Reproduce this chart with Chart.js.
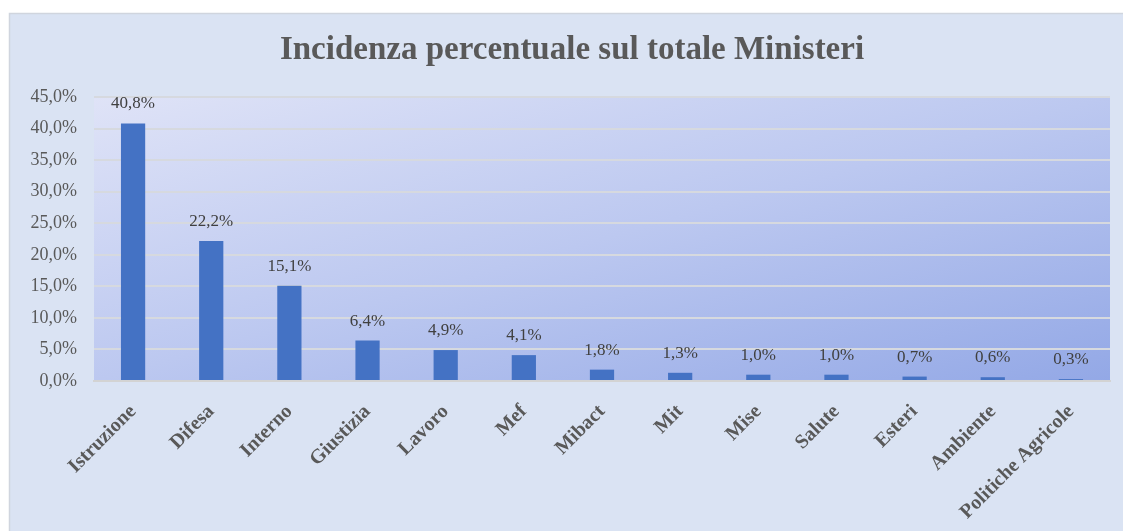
<!DOCTYPE html>
<html><head><meta charset="utf-8">
<script src="https://cdn.jsdelivr.net/npm/chart.js@4"></script>
<style>html,body{margin:0;padding:0;background:#fff;overflow:hidden}#wrap{width:1123px;height:531px}</style>
</head><body><div id="wrap"><canvas id="c" width="1123" height="531"></canvas></div>
<script>
const categories = ["Istruzione","Difesa","Interno","Giustizia","Lavoro","Mef","Mibact","Mit","Mise","Salute","Esteri","Ambiente","Politiche Agricole"];
const values = [40.8,22.2,15.1,6.4,4.9,4.1,1.8,1.3,1.0,1.0,0.7,0.6,0.3];
const yMin = 0, yMax = 45, yStep = 5;
const titleText = "Incidenza percentuale sul totale Ministeri";

const fmt = v => v.toFixed(1).replace('.', ',') + '%';
const SERIF = '"Liberation Serif", "Times New Roman", serif';

const bgPlugin = {
  id: 'bg',
  beforeDraw(chart) {
    const ctx = chart.ctx;
    ctx.save();
    ctx.fillStyle = '#ffffff';
    ctx.fillRect(0, 0, chart.width, chart.height);
    ctx.fillStyle = '#dae3f3';
    ctx.fillRect(9, 13, chart.width, chart.height);
    ctx.strokeStyle = '#d0d5de';
    ctx.lineWidth = 1.5;
    ctx.strokeRect(9.5, 13.5, chart.width + 10, chart.height + 10);
    const a = chart.chartArea;
    const W = a.right - a.left, H = a.bottom - a.top;
    const k = 2 * W * H / (W * W + H * H);
    const g = ctx.createLinearGradient(a.left, a.top, a.left + k * H, a.top + k * W);
    g.addColorStop(0, '#dfe3f7');
    g.addColorStop(0.5, '#bcc8f0');
    g.addColorStop(1, '#93a8e6');
    ctx.fillStyle = g;
    ctx.fillRect(a.left, a.top, W, H);
    ctx.restore();
  },
  afterDraw(chart) {
    const ctx = chart.ctx;
    ctx.save();
    ctx.font = 'bold 33px ' + SERIF;
    ctx.fillStyle = '#595959';
    ctx.textAlign = 'center';
    ctx.textBaseline = 'middle';
    ctx.fillText(titleText, 572, 50);
    ctx.restore();
  }
};

const labelPlugin = {
  id: 'vals',
  afterDatasetsDraw(chart) {
    const ctx = chart.ctx;
    const meta = chart.getDatasetMeta(0);
    ctx.save();
    ctx.font = '17px ' + SERIF;
    ctx.fillStyle = '#404040';
    ctx.textAlign = 'center';
    ctx.textBaseline = 'middle';
    meta.data.forEach((bar, i) => {
      ctx.fillText(fmt(values[i]), bar.x, bar.y - 19.5);
    });
    ctx.restore();
  }
};

new Chart(document.getElementById('c'), {
  type: 'bar',
  data: {
    labels: categories,
    datasets: [{
      data: values,
      backgroundColor: '#4472c4',
      borderWidth: 0,
      barPercentage: 0.62,
      categoryPercentage: 0.5
    }]
  },
  options: {
    responsive: false,
    animation: false,
    devicePixelRatio: 1,
    layout: { padding: { left: 0, right: 13, top: 97, bottom: 0 } },
    plugins: {
      legend: { display: false },
      tooltip: { enabled: false },
      title: { display: false }
    },
    scales: {
      x: {
        grid: { display: false, drawTicks: false },
        border: { display: true, color: '#d3d3d3', width: 2 },
        ticks: {
          color: '#595959',
          font: { family: SERIF, size: 20, weight: 'bold' },
          maxRotation: 45, minRotation: 45,
          padding: 19,
          autoSkip: false
        },
        afterFit(s) { s.height = 150; }
      },
      y: {
        min: yMin, max: yMax,
        grid: { color: '#d6d9df', lineWidth: 2, drawTicks: false },
        border: { display: false },
        ticks: {
          stepSize: yStep,
          color: '#595959',
          font: { family: SERIF, size: 18 },
          padding: 17,
          callback: v => fmt(v)
        },
        afterFit(s) { s.width = 94; }
      }
    }
  },
  plugins: [bgPlugin, labelPlugin]
});
</script>
</body></html>
